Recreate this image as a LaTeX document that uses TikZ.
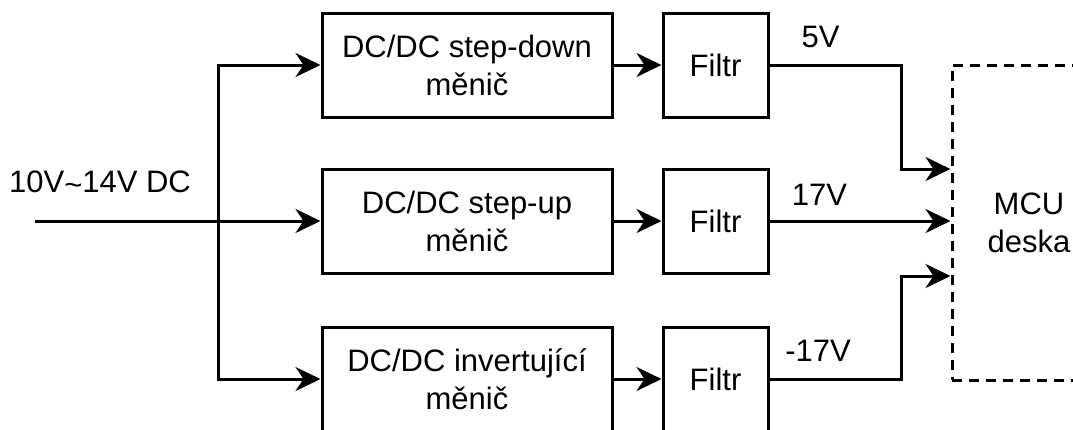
\documentclass[tikz,border=0pt]{standalone}
\usepackage{fontspec}
\setmainfont{Liberation Sans}
\usetikzlibrary{arrows.meta}
\begin{document}
\begin{tikzpicture}[x=1pt,y=-1pt,
  txt/.style={font=\fontsize{31}{38}\selectfont},
  blk/.style={draw,line width=3pt,inner sep=0pt,align=center,txt},
  conv/.style={blk,minimum width=290pt,minimum height=104pt},
  filt/.style={blk,minimum width=105pt,minimum height=104pt},
  lbl/.style={txt,inner sep=0pt,anchor=base},
  wire/.style={line width=3pt,-{Stealth[length=25pt,width=24pt,inset=8pt]}},
  plain/.style={line width=3pt}]
\clip (0,0) rectangle (1073,429);
\node[conv] (c1) at (467,65) {DC/DC step-down\\měnič};
\node[conv] (c2) at (467,221) {DC/DC step-up\\měnič};
\node[conv] (c3) at (467,379) {DC/DC invertující\\měnič};
\node[filt] (f1) at (715.5,65) {Filtr};
\node[filt] (f2) at (715.5,221) {Filtr};
\node[filt] (f3) at (715.5,379) {Filtr};
\node[draw,dashed,dash pattern=on 10pt off 7pt,line width=3pt,minimum width=154pt,minimum height=315pt,inner sep=0pt,align=center,txt] (mcu) at (1029,222.5) {MCU\\deska};
\node[lbl] (tin) at (100,192) {10V\raisebox{-0.12em}{\char"007E}14V DC};
\node[lbl] (t5) at (820.5,47) {5V};
\node[lbl] (t17) at (819.5,205) {17V};
\node[lbl] (tm17) at (818,361) {-17V};
\coordinate (in) at (35,221);
\coordinate (j) at (218,221);
\draw[wire] (in) -- (c2.west);
\draw[wire] (j) |- (c1.west);
\draw[wire] (j) |- (c3.west);
\draw[wire] (c1.east) -- (f1.west);
\draw[wire] (c2.east) -- (f2.west);
\draw[wire] (c3.east) -- (f3.west);
\draw[wire] (f1.east) -- ++(132,0) |- ([yshift=53.5pt]mcu.west);
\draw[wire] (f2.east) -- (f2.east -| mcu.west);
\draw[wire] (f3.east) -- ++(132,0) |- ([yshift=-53.5pt]mcu.west);
\end{tikzpicture}
\end{document}
